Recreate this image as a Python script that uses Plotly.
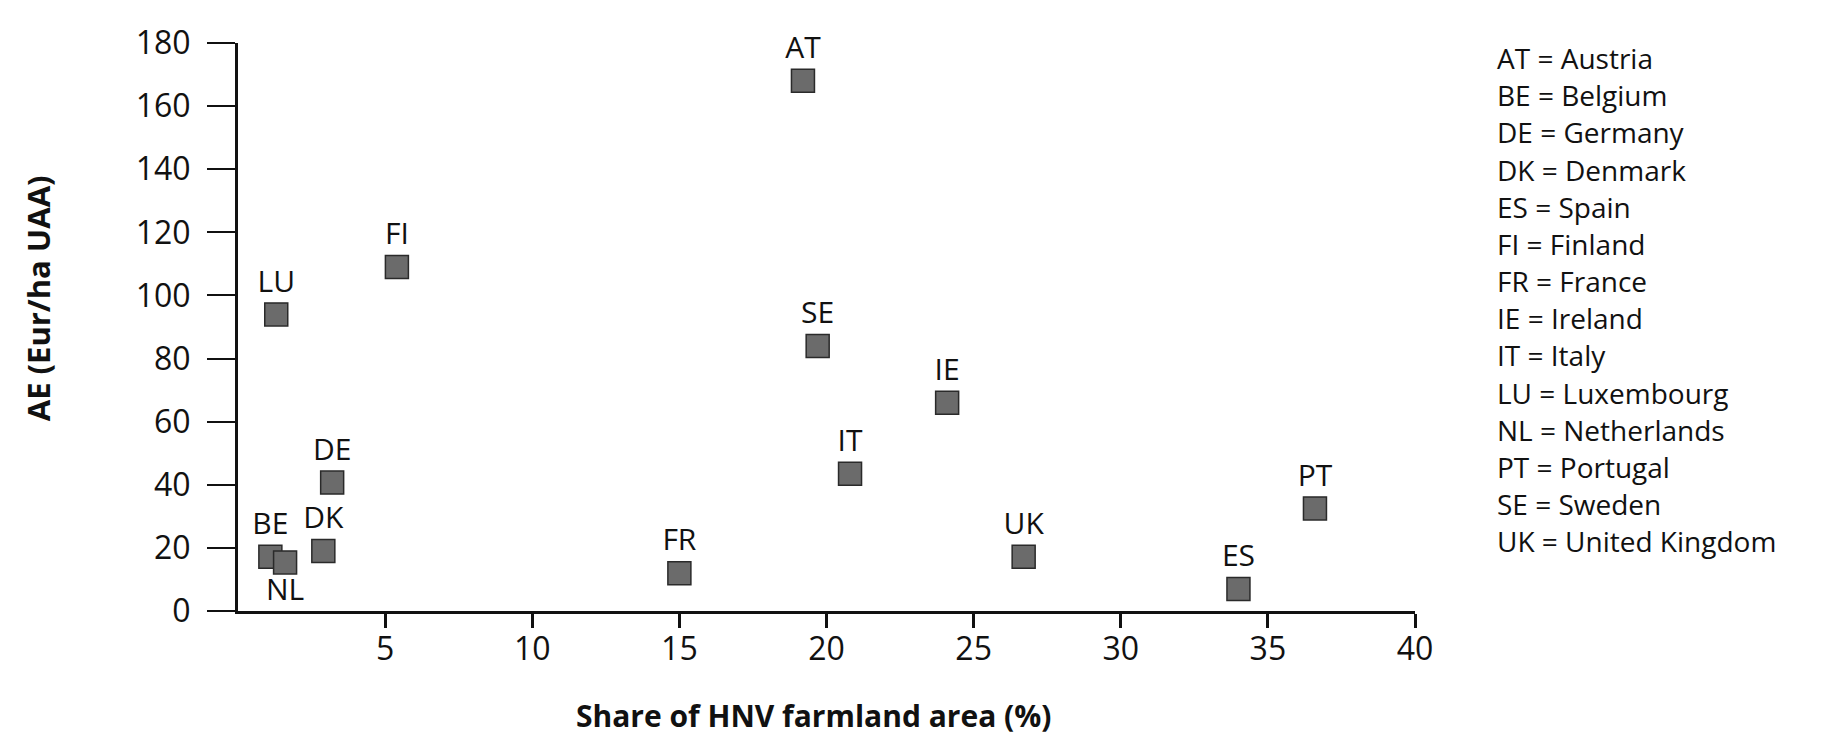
import plotly.graph_objects as go

# Data
codes = ["AT", "BE", "DE", "DK", "ES", "FI", "FR", "IE", "IT", "LU", "NL", "PT", "SE", "UK"]
names = ["Austria", "Belgium", "Germany", "Denmark", "Spain", "Finland", "France", "Ireland",
         "Italy", "Luxembourg", "Netherlands", "Portugal", "Sweden", "United Kingdom"]
hnv_share = [19.2, 1.1, 3.2, 2.9, 34.0, 5.4, 15.0, 24.1, 20.8, 1.3, 1.6, 36.6, 19.7, 26.7]
ae_payment = [168, 17.2, 40.7, 19.0, 7, 109, 12, 66, 43.5, 94, 15.4, 32.5, 84, 17.2]
label_pos = ["top center"] * len(codes)
label_pos[codes.index("NL")] = "bottom center"

x_ticks = [5, 10, 15, 20, 25, 30, 35, 40]
y_ticks = [0, 20, 40, 60, 80, 100, 120, 140, 160, 180]

FONT = "Open Sans"
INK = "#111111"

fig = go.Figure()
fig.add_trace(go.Scatter(
    x=hnv_share, y=ae_payment, mode="markers+text",
    text=codes, textposition=label_pos,
    textfont=dict(family=FONT, size=30, color=INK),
    marker=dict(symbol="square", size=23, color="#6b6b6b",
                line=dict(color="#2a2a2a", width=1.5)),
    cliponaxis=False, showlegend=False,
))

W, H = 1827, 737
L, R, T, B = 230, 420, 20, 134
pw, ph = W - L - R, H - T - B

fig.update_layout(
    width=W, height=H,
    margin=dict(l=L, r=R, t=T, b=B, pad=0),
    paper_bgcolor="white", plot_bgcolor="white",
    font=dict(family=FONT, color=INK),
)
fig.update_xaxes(
    range=[0, 40], tickvals=x_ticks, ticktext=[str(v) for v in x_ticks],
    showgrid=False, zeroline=False, showline=True, linecolor=INK, linewidth=3,
    ticks="outside", ticklen=14, tickwidth=3, tickcolor=INK,
    tickfont=dict(family=FONT, size=32, color=INK),
    ticklabelstandoff=-6,
)
fig.update_yaxes(
    range=[0, 180], tickvals=y_ticks, ticktext=[str(v) for v in y_ticks],
    showgrid=False, zeroline=False, showline=True, linecolor=INK, linewidth=3,
    ticks="outside", ticklen=28, tickwidth=1.5, tickcolor=INK,
    tickfont=dict(family=FONT, size=32, color=INK),
    ticklabelstandoff=10, ticklabeloverflow="allow",
)

# Axis titles
fig.add_annotation(text="<b>AE (Eur/ha UAA)</b>", xref="paper", yref="paper",
                   x=(30 - L) / pw, y=(T + ph - 282) / ph, textangle=-90,
                   showarrow=False, xanchor="center", yanchor="middle",
                   font=dict(family=FONT, size=31, color=INK))
fig.add_annotation(text="<b>Share of HNV farmland area (%)</b>", xref="paper", yref="paper",
                   x=(805 - L) / pw, y=(T + ph - 710) / ph,
                   showarrow=False, xanchor="center", yanchor="middle",
                   font=dict(family=FONT, size=30, color=INK))

# Country key: one block, line spacing from base size 28.6, glyphs at 28
key_lines = [f'<span style="font-size:28px">{c} = {n}</span>' for c, n in zip(codes, names)]
fig.add_annotation(text="<br>".join(key_lines), xref="paper", yref="paper",
                   x=(1487 - L) / pw, y=(T + ph - 283) / ph,
                   showarrow=False, xanchor="left", yanchor="middle", align="left",
                   font=dict(family=FONT, size=28.6, color=INK))

fig.write_html("out.html")
